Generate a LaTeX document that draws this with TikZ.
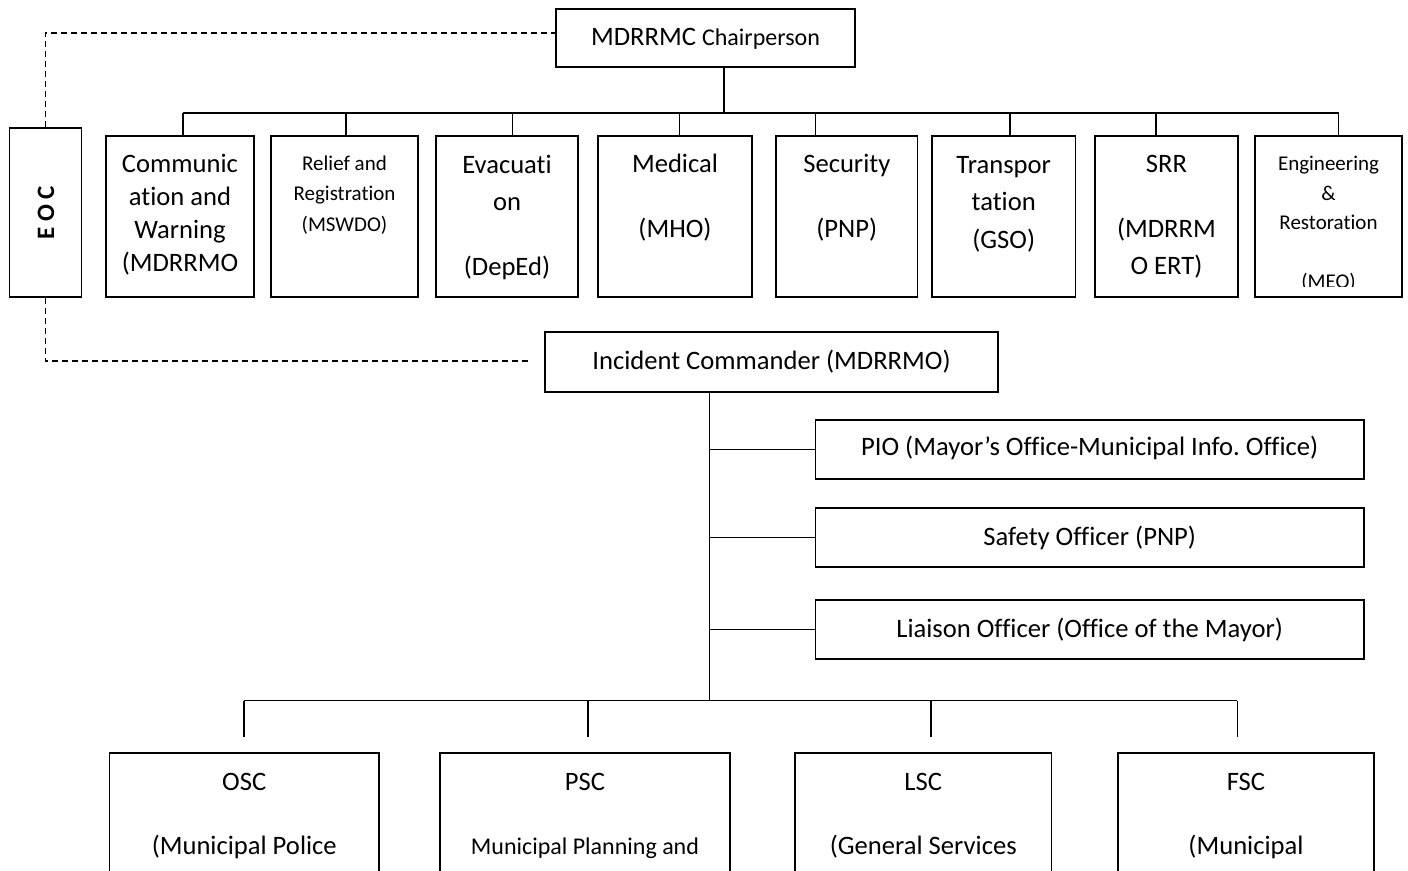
\documentclass[tikz,border=0pt]{standalone}
\usepackage{fontspec}
\setmainfont{Carlito}[Ligatures=NoCommon]
\frenchspacing
\newcommand\bigf{\fontsize{26.6}{32}\selectfont}
\newcommand\midf{\fontsize{24}{29}\selectfont}
\newcommand\smlf{\fontsize{21}{25}\selectfont}
\newcommand\txtline[5]{\node[lntxt,font=#4] (#1) at (#2,#3+6) {#5};}
\begin{document}
\begin{tikzpicture}[x=1pt,y=-1pt,
  box/.style={draw, line width=1.7pt, inner sep=0pt},
  conn/.style={line width=1.4pt},
  dashln/.style={line width=1.4pt, dash pattern=on 6pt off 4pt},
  lntxt/.style={inner sep=0pt, text height=0.7em, text depth=0.2em, anchor=center}]
\useasboundingbox (0,0) rectangle (1408,870);
\clip (0,0) rectangle (1408,870);

% top boxes
\node[box, minimum width=299, minimum height=58] (chair) at (705.5,38) {};
\node[box, minimum width=72, minimum height=169] (eoc) at (45.5,212.5) {};
\node[box, minimum width=148, minimum height=161] (comm) at (180,216.5) {};
\node[box, minimum width=147, minimum height=161] (relief) at (344.5,216.5) {};
\node[box, minimum width=142, minimum height=161] (evac) at (507,216.5) {};
\node[box, minimum width=154, minimum height=161] (medical) at (675,216.5) {};
\node[box, minimum width=141.6, minimum height=161] (security) at (846.8,216.5) {};
\node[box, minimum width=143.4, minimum height=161] (transport) at (1003.7,216.5) {};
\node[box, minimum width=142.7, minimum height=161] (srr) at (1166.4,216.5) {};
\node[box, minimum width=147, minimum height=161] (eng) at (1328.5,216.5) {};

% incident commander and staff
\node[box, minimum width=453, minimum height=60] (ic) at (771.5,362) {};
\node[box, minimum width=548.6, minimum height=59] (pio) at (1089.7,449.5) {};
\node[box, minimum width=548.6, minimum height=59] (safety) at (1089.7,537.5) {};
\node[box, minimum width=548.6, minimum height=59] (liaison) at (1089.7,629.5) {};

% bottom boxes
\node[box, minimum width=269.5, minimum height=147] (osc) at (244.25,826.5) {};
\node[box, minimum width=290, minimum height=147] (psc) at (585,826.5) {};
\node[box, minimum width=256.5, minimum height=147] (lsc) at (923.25,826.5) {};
\node[box, minimum width=256, minimum height=147] (fsc) at (1246,826.5) {};

% texts
\node[lntxt, font=\bigf] (chairT) at (705.5,43) {MDRRMC {\midf Chairperson}};
\node[rotate=90, inner sep=0pt, font=\fontsize{25}{30}\selectfont\bfseries] (eocT) at (46,213) {E O C};

\txtline{commA}{180}{164}{\bigf}{Communic}
\txtline{commB}{180}{197}{\bigf}{ation and}
\txtline{commC}{180}{230}{\bigf}{Warning}
\txtline{commD}{180}{263}{\bigf}{(MDRRMO}

\txtline{relA}{344.5}{162}{\smlf}{Relief and}
\txtline{relB}{344.5}{192}{\smlf}{Registration}
\txtline{relC}{344.5}{223}{\smlf}{(MSWDO)}

\txtline{evA}{507}{165}{\bigf}{Evacuati}
\txtline{evB}{507}{202}{\bigf}{on}
\txtline{evC}{507}{267}{\bigf}{(DepEd)}

\txtline{medA}{675}{164}{\bigf}{Medical}
\txtline{medB}{675}{229}{\bigf}{(MHO)}

\txtline{secA}{846.8}{164}{\bigf}{Security}
\txtline{secB}{846.8}{229}{\bigf}{(PNP)}

\txtline{trA}{1003.7}{165}{\bigf}{Transpor}
\txtline{trB}{1003.7}{202}{\bigf}{tation}
\txtline{trC}{1003.7}{240}{\bigf}{(GSO)}

\txtline{srrA}{1166.4}{164}{\bigf}{SRR}
\txtline{srrB}{1166.4}{229}{\bigf}{(MDRRM}
\txtline{srrC}{1166.4}{266}{\bigf}{O ERT)}

\txtline{engA}{1328.5}{162}{\smlf}{Engineering}
\txtline{engB}{1328.5}{192}{\smlf}{\&}
\txtline{engC}{1328.5}{221}{\smlf}{Restoration}
\begin{scope}
\clip (1250,260) rectangle (1400,286);
\txtline{engD}{1328.5}{280}{\smlf}{(MEO)}
\end{scope}

\txtline{icT}{771.5}{361}{\bigf}{Incident Commander (MDRRMO)}
\txtline{pioT}{1089.7}{447}{\bigf}{PIO (Mayor’s Office-Municipal Info. Office)}
\txtline{safT}{1089.7}{537}{\bigf}{Safety Officer (PNP)}
\txtline{liaT}{1089.7}{629}{\bigf}{Liaison Officer (Office of the Mayor)}

\txtline{oscA}{244.25}{782}{\bigf}{OSC}
\txtline{oscB}{244.25}{846}{\bigf}{(Municipal Police}
\txtline{pscA}{585}{782}{\bigf}{PSC}
\txtline{pscB}{585}{846}{\midf}{Municipal Planning and}
\txtline{lscA}{923.25}{782}{\bigf}{LSC}
\txtline{lscB}{923.25}{846}{\bigf}{(General Services}
\txtline{fscA}{1246}{782}{\bigf}{FSC}
\txtline{fscB}{1246}{846}{\bigf}{(Municipal}

% dashed links
\coordinate (upT) at (46,33);
\coordinate (lowT) at (46,361);
\draw[dashln] (eoc.north) |- (chair.west |- upT);
\draw[dashln] (eoc.south) |- ([xshift=-15pt]ic.west |- lowT);

% top comb
\coordinate (combL) at (183,113);
\coordinate (combR) at (1338.5,113);
\coordinate (cdrop) at (723.8,113);
\draw[conn] (combL) -- (combR);
\draw[conn] (cdrop |- chair.south) -- (cdrop);
\foreach \nm/\xx in {comm/183, relief/346, evac/512.5, medical/679.5, security/815.7, transport/1010, srr/1156, eng/1338.5} {
  \path (\xx,113) coordinate (d\nm);
  \draw[conn] (d\nm) -- (d\nm |- \nm.north);
}

% incident commander trunk
\coordinate (trk) at (709.4,700.7);
\draw[conn] (trk |- ic.south) -- (trk);
\draw[conn] (trk |- pio.west) -- (pio.west);
\draw[conn] (trk |- safety.west) -- (safety.west);
\draw[conn] (trk |- liaison.west) -- (liaison.west);

% bottom comb
\coordinate (bL) at (244,700.7);
\coordinate (bR) at (1237.4,700.7);
\draw[conn] (bL) -- (bR);
\foreach \nm/\xx in {osc/244, psc/588, lsc/931, fsc/1237.4} {
  \path (\xx,700.7) coordinate (e\nm);
  \draw[conn] (e\nm) -- ([yshift=15pt]e\nm |- \nm.north);
}
\end{tikzpicture}
\end{document}
